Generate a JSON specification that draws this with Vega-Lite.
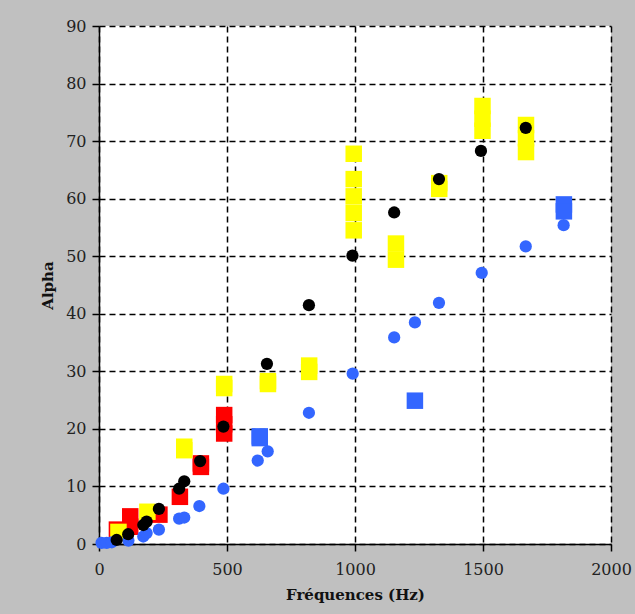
{
  "$schema": "https://vega.github.io/schema/vega-lite/v6.json",
  "width": 512,
  "height": 518,
  "autosize": {"type": "none"},
  "padding": {"left": 99, "top": 26, "right": 24, "bottom": 70},
  "background": "#c0c0c0",
  "config": {
    "view": {"fill": "white", "stroke": null},
    "axis": {
      "labelFont": "DejaVu Serif",
      "labelFontSize": 16,
      "labelColor": "#222222",
      "titleFont": "DejaVu Serif",
      "titleFontSize": 15,
      "titleFontWeight": "bold",
      "titleColor": "#111111",
      "domainColor": "black",
      "domainWidth": 1.5,
      "tickColor": "black",
      "tickWidth": 1.5,
      "tickSize": 7,
      "gridColor": "black",
      "gridDash": [6, 4],
      "gridWidth": 1.5,
      "gridOpacity": 1
    }
  },
  "data": {
    "values": [
      {"series": "red", "x": 70, "y": 2.5},
      {"series": "red", "x": 122, "y": 4.8},
      {"series": "red", "x": 122, "y": 3.0},
      {"series": "red", "x": 236, "y": 5.1},
      {"series": "red", "x": 316, "y": 8.2},
      {"series": "red", "x": 398, "y": 14.0},
      {"series": "red", "x": 398, "y": 13.4},
      {"series": "red", "x": 489, "y": 22.4},
      {"series": "red", "x": 489, "y": 20.8},
      {"series": "red", "x": 489, "y": 19.2},
      {"series": "yellow", "x": 76, "y": 2.1},
      {"series": "yellow", "x": 189, "y": 5.6},
      {"series": "yellow", "x": 333, "y": 16.9},
      {"series": "yellow", "x": 333, "y": 16.3},
      {"series": "yellow", "x": 489, "y": 27.8},
      {"series": "yellow", "x": 489, "y": 27.1},
      {"series": "yellow", "x": 660, "y": 28.3},
      {"series": "yellow", "x": 660, "y": 27.8},
      {"series": "yellow", "x": 821, "y": 31.0},
      {"series": "yellow", "x": 821, "y": 29.9},
      {"series": "yellow", "x": 995, "y": 67.8},
      {"series": "yellow", "x": 995, "y": 63.4},
      {"series": "yellow", "x": 995, "y": 60.4},
      {"series": "yellow", "x": 995, "y": 57.5},
      {"series": "yellow", "x": 995, "y": 54.5},
      {"series": "yellow", "x": 1160, "y": 52.2},
      {"series": "yellow", "x": 1160, "y": 49.4},
      {"series": "yellow", "x": 1329, "y": 62.7},
      {"series": "yellow", "x": 1329, "y": 61.7},
      {"series": "yellow", "x": 1498, "y": 76.1},
      {"series": "yellow", "x": 1498, "y": 73.9},
      {"series": "yellow", "x": 1498, "y": 71.8},
      {"series": "yellow", "x": 1668, "y": 72.8},
      {"series": "yellow", "x": 1668, "y": 70.5},
      {"series": "yellow", "x": 1668, "y": 68.1},
      {"series": "bluesq", "x": 628, "y": 18.7},
      {"series": "bluesq", "x": 628, "y": 18.4},
      {"series": "bluesq", "x": 1234, "y": 24.9},
      {"series": "bluesq", "x": 1816, "y": 59.0},
      {"series": "bluesq", "x": 1816, "y": 57.8},
      {"series": "bluecirc", "x": 10, "y": 0.2},
      {"series": "bluecirc", "x": 30, "y": 0.2},
      {"series": "bluecirc", "x": 50, "y": 0.3},
      {"series": "bluecirc", "x": 115, "y": 0.6},
      {"series": "bluecirc", "x": 173, "y": 1.3},
      {"series": "bluecirc", "x": 186, "y": 1.9},
      {"series": "bluecirc", "x": 234, "y": 2.5},
      {"series": "bluecirc", "x": 313, "y": 4.4},
      {"series": "bluecirc", "x": 333, "y": 4.6},
      {"series": "bluecirc", "x": 392, "y": 6.6},
      {"series": "bluecirc", "x": 486, "y": 9.6},
      {"series": "bluecirc", "x": 620, "y": 14.5},
      {"series": "bluecirc", "x": 659, "y": 16.1},
      {"series": "bluecirc", "x": 820, "y": 22.8},
      {"series": "bluecirc", "x": 991, "y": 29.6},
      {"series": "bluecirc", "x": 1153, "y": 35.9},
      {"series": "bluecirc", "x": 1234, "y": 38.5},
      {"series": "bluecirc", "x": 1328, "y": 41.9},
      {"series": "bluecirc", "x": 1495, "y": 47.1},
      {"series": "bluecirc", "x": 1667, "y": 51.7},
      {"series": "bluecirc", "x": 1815, "y": 55.4},
      {"series": "black", "x": 69, "y": 0.7},
      {"series": "black", "x": 114, "y": 1.7},
      {"series": "black", "x": 173, "y": 3.3},
      {"series": "black", "x": 186, "y": 3.9},
      {"series": "black", "x": 234, "y": 6.1},
      {"series": "black", "x": 313, "y": 9.6},
      {"series": "black", "x": 333, "y": 10.9},
      {"series": "black", "x": 395, "y": 14.4},
      {"series": "black", "x": 486, "y": 20.4},
      {"series": "black", "x": 656, "y": 31.3},
      {"series": "black", "x": 820, "y": 41.5},
      {"series": "black", "x": 990, "y": 50.1},
      {"series": "black", "x": 1153, "y": 57.6},
      {"series": "black", "x": 1328, "y": 63.4},
      {"series": "black", "x": 1492, "y": 68.3},
      {"series": "black", "x": 1667, "y": 72.3}
    ]
  },
  "mark": {"type": "point", "filled": true, "opacity": 1, "strokeWidth": 0},
  "encoding": {
    "x": {
      "field": "x",
      "type": "quantitative",
      "scale": {"domain": [0, 2000], "nice": false, "zero": false},
      "axis": {"values": [0, 500, 1000, 1500, 2000], "format": "d", "title": "Fréquences (Hz)", "labelPadding": 10, "titlePadding": 10, "labelFlush": false}
    },
    "y": {
      "field": "y",
      "type": "quantitative",
      "scale": {"domain": [0, 90], "nice": false},
      "axis": {"values": [0, 10, 20, 30, 40, 50, 60, 70, 80, 90], "format": "d", "title": "Alpha", "labelPadding": 6, "titlePadding": 10}
    },
    "color": {
      "field": "series",
      "type": "nominal",
      "scale": {"domain": ["red", "yellow", "bluesq", "bluecirc", "black"], "range": ["#ff0000", "#ffff00", "#3366ff", "#3366ff", "#000000"]},
      "legend": null
    },
    "shape": {
      "field": "series",
      "type": "nominal",
      "scale": {"domain": ["red", "yellow", "bluesq", "bluecirc", "black"], "range": ["square", "square", "square", "circle", "circle"]},
      "legend": null
    },
    "size": {
      "field": "series",
      "type": "nominal",
      "scale": {"type": "ordinal", "domain": ["red", "yellow", "bluesq", "bluecirc", "black"], "range": [272, 272, 272, 150, 150]},
      "legend": null
    }
  }
}
